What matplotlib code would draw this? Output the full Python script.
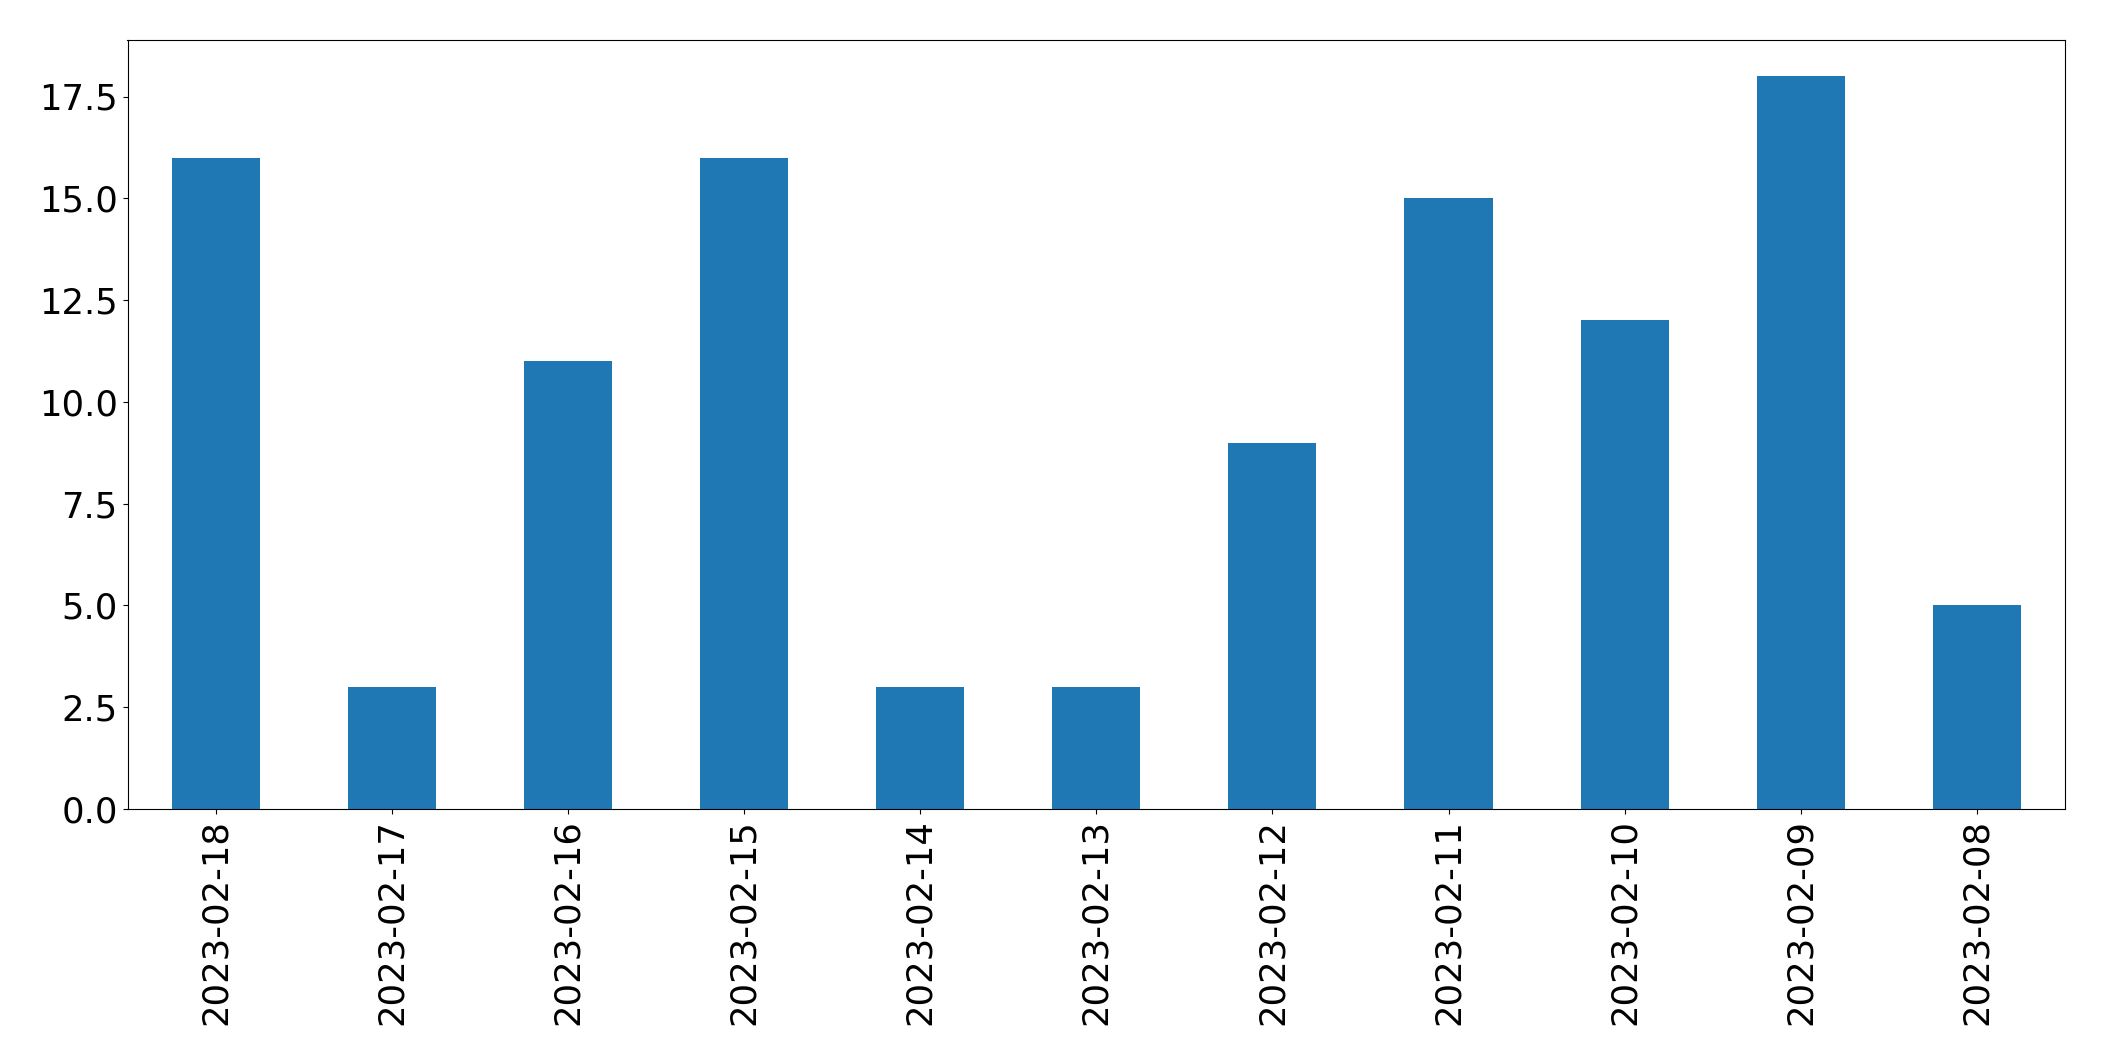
import matplotlib
matplotlib.use("Agg")
import matplotlib.pyplot as plt

dates = ["2023-02-18", "2023-02-17", "2023-02-16", "2023-02-15", "2023-02-14",
         "2023-02-13", "2023-02-12", "2023-02-11", "2023-02-10", "2023-02-09",
         "2023-02-08"]
counts = [16, 3, 11, 16, 3, 3, 9, 15, 12, 18, 5]

fig = plt.figure(figsize=(21.04, 10.61), dpi=100)
ax = fig.add_axes([127.5 / 2104, (1061 - 809) / 1061, (2065 - 127.5) / 2104, (809 - 39.5) / 1061])
x = range(len(dates))
ax.bar(x, counts, width=0.5, color="#1f77b4", linewidth=0)
ax.set_xlim(-0.5, len(dates) - 0.5)
ax.set_xticks(list(x))
ax.set_xticklabels(dates, rotation=90)
ax.tick_params(axis="both", labelsize=25.5)
fig.savefig("out.png", dpi=100)
